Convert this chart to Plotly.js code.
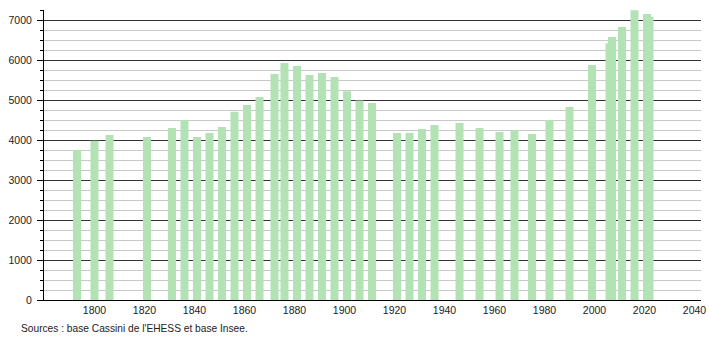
<!DOCTYPE html>
<html>
<head>
<meta charset="utf-8">
<script src="https://cdn.plot.ly/plotly-3.0.1.min.js"></script>
<style>
html,body{margin:0;padding:0;background:#fff;}
#chart{width:710px;height:340px;}
</style>
</head>
<body>
<div id="chart"></div>
<script>
var years = [1793,1800,1806,1821,1831,1836,1841,1846,1851,1856,1861,1866,1872,1876,1881,1886,1891,1896,1901,1906,1911,1921,1926,1931,1936,1946,1954,1962,1968,1975,1982,1990,1999,2006,2007,2011,2016,2021,2022];
var population = [3750,3980,4125,4075,4300,4500,4075,4175,4325,4708,4875,5075,5650,5925,5850,5625,5675,5575,5217,4990,4925,4175,4175,4275,4375,4425,4300,4200,4242,4150,4500,4825,5875,6417,6575,6825,7245,7150,7083];
var xTicks = [1800,1820,1840,1860,1880,1900,1920,1940,1960,1980,2000,2020,2040];
var yTicks = [0,1000,2000,3000,4000,5000,6000,7000];
var sourceText = "Sources : base Cassini de l'EHESS et base Insee.";

var trace = {
  type: 'bar',
  x: years,
  y: population,
  width: 3.2,
  marker: {color: '#b3e3b5', line: {width: 0}},
  hoverinfo: 'x+y'
};

var layout = {
  width: 710, height: 340,
  margin: {l: 44, r: 9, t: 10, b: 40},
  paper_bgcolor: '#ffffff',
  plot_bgcolor: '#ffffff',
  showlegend: false,
  font: {family: 'Liberation Sans, Arial, sans-serif', size: 11, color: '#222'},
  xaxis: {
    range: [1779.8, 2042.6],
    tickvals: xTicks,
    ticktext: xTicks.map(String),
    showgrid: false,
    zeroline: false,
    showline: true,
    linecolor: '#000',
    linewidth: 1,
    ticks: '',
    tickfont: {size: 10.5, color: '#222'}
  },
  yaxis: {
    range: [0, 7250],
    tickvals: yTicks,
    ticktext: yTicks.map(String),
    showgrid: true,
    gridcolor: '#333',
    gridwidth: 1,
    zeroline: false,
    showline: true,
    linecolor: '#000',
    linewidth: 1,
    ticks: 'outside',
    ticklen: 6,
    tickcolor: '#000',
    ticklabelstandoff: 3,
    tickfont: {size: 10.5, color: '#222'},
    minor: {dtick: 250, showgrid: true, gridcolor: '#c8c8c8', gridwidth: 1, ticks: 'outside', ticklen: 3, tickcolor: '#000'}
  },
  annotations: [{
    text: sourceText,
    xref: 'paper', yref: 'paper',
    x: -44/657, y: 0, yshift: -21,
    xanchor: 'left', yanchor: 'top',
    xshift: 19,
    showarrow: false,
    font: {size: 10.2, color: '#222'}
  }]
};

Plotly.newPlot('chart', [trace], layout, {displayModeBar: false, staticPlot: true});
</script>
</body>
</html>
